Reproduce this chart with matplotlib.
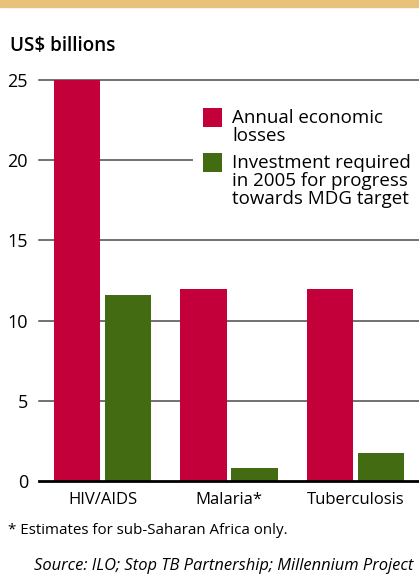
import matplotlib
matplotlib.use("Agg")
import matplotlib.pyplot as plt
import numpy as np
from matplotlib.patches import Rectangle

categories = ["HIV/AIDS", "Malaria*", "Tuberculosis"]
losses = [25, 12, 12]
investment = [11.6, 0.8, 1.75]
yticks = [0, 5, 10, 15, 20, 25]
labels = ["Annual economic\nlosses", "Investment required\nin 2005 for progress\ntowards MDG target"]

RED = "#C4003A"
GREEN = "#436B12"
BEIGE = "#E8C17A"

plt.rcParams['font.family'] = ['Open Sans', 'DejaVu Sans']

W, H = 419, 576
fig = plt.figure(figsize=(W / 100, H / 100), dpi=100)


def fx(px):
    return px / W


def fy(py):
    return 1 - py / H


fig.patches.append(Rectangle((0, fy(7)), 1, 7 / H, transform=fig.transFigure,
                             color=BEIGE, zorder=0))

ax = fig.add_axes([fx(39), fy(481), 380 / W, 401 / H])
x = np.arange(len(categories))
w = 0.364
off = 0.2016
ax.bar(x - off, losses, w, color=RED, zorder=2)
ax.bar(x + off, investment, w, color=GREEN, zorder=2)

for t in yticks[1:]:
    ax.axhline(t, color="#4a4a4a", lw=1.1, zorder=1, clip_on=False)
ax.axhline(0, color="black", lw=2, zorder=3, clip_on=False)

ax.set_xlim(-0.502, 2.502)
ax.set_ylim(0, 25)
ax.set_yticks(yticks)
ax.set_yticklabels([str(t) for t in yticks], fontsize=13)
ax.set_xticks(x)
ax.set_xticklabels(categories, fontsize=12)
ax.tick_params(axis='y', length=0, pad=8)
ax.tick_params(axis='x', length=0, pad=8)
for s in ax.spines.values():
    s.set_visible(False)

# legend (manual, handles aligned with first text line)
fig.patches.append(Rectangle((fx(193), fy(216)), fx(419) - fx(193), (216 - 100) / H,
                             transform=fig.transFigure, facecolor="white",
                             edgecolor="none", zorder=5))
leg_tops = [108, 153]
for lab, col, top in zip(labels, [RED, GREEN], leg_tops):
    fig.patches.append(Rectangle((fx(203), fy(top + 19)), 19 / W, 19 / H,
                                 transform=fig.transFigure, facecolor=col,
                                 edgecolor="none", zorder=6))
    fig.text(fx(232), fy(top + 1), lab, fontsize=13.5, va="top", ha="left",
             linespacing=1.0, zorder=7)

fig.text(fx(10), fy(46), "US$ billions", fontsize=13.6, fontweight="semibold",
         va="center", ha="left")
fig.text(fx(8), fy(531), "* Estimates for sub-Saharan Africa only.", fontsize=10.9,
         va="center", ha="left")
fig.text(fx(413), fy(566), "Source: ILO; Stop TB Partnership; Millennium Project",
         fontsize=11.9, style="italic", va="center", ha="right")

fig.savefig("out.png", dpi=100)
